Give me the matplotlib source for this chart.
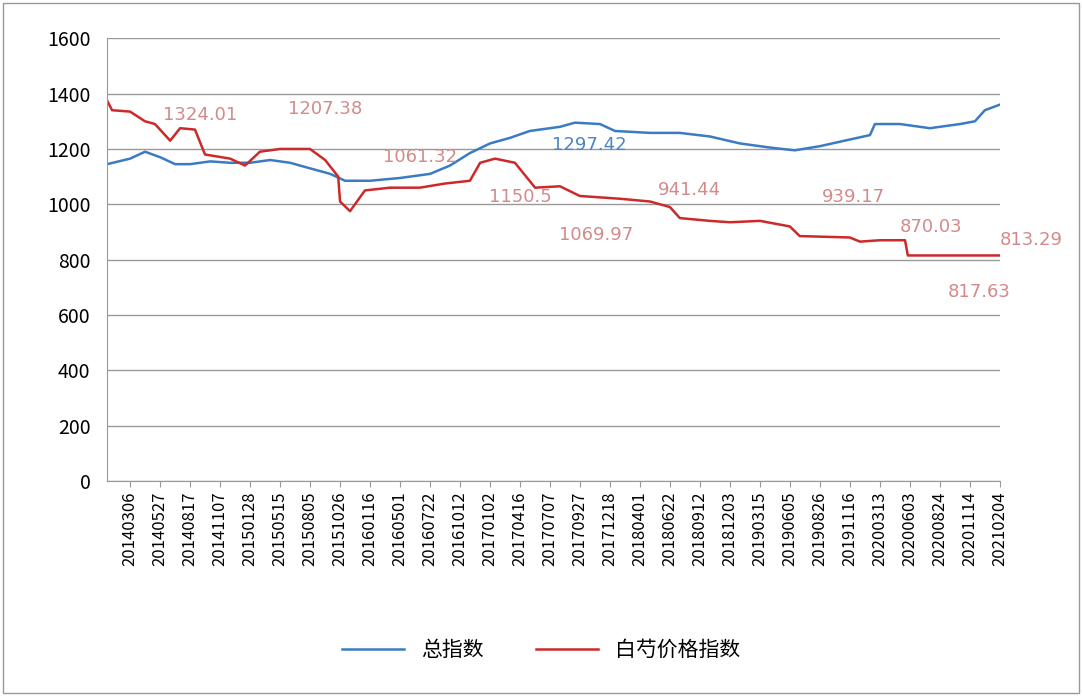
import matplotlib
matplotlib.use("Agg")
import matplotlib.pyplot as plt
import numpy as np

plt.rcParams['font.family'] = ['Noto Sans CJK SC', 'DejaVu Sans']

tick_labels = ["20140306","20140527","20140817","20141107","20150128","20150515","20150805",
"20151026","20160116","20160501","20160722","20161012","20170102","20170416","20170707",
"20170927","20171218","20180401","20180622","20180912","20181203","20190315","20190605",
"20190826","20191116","20200313","20200603","20200824","20201114","20210204"]

# x in chart units (first tick = 0, last tick = 28)
blue_x = [-0.74,0,0.48,0.97,1.45,1.93,2.58,3.22,3.86,4.51,5.15,5.79,6.44,6.92,7.72,8.69,9.66,10.3,10.94,11.59,12.23,12.87,13.84,14.32,15.13,15.61,16.74,17.7,18.67,19.63,20.6,21.4,22.21,23.01,23.82,23.98,24.79,25.75,26.72,27.2,27.52,28.0]
blue_y = [1145,1165,1190,1170,1145,1145,1155,1150,1150,1160,1150,1130,1110,1085,1085,1095,1110,1140,1185,1220,1240,1265,1280,1295,1290,1265,1258,1258,1245,1220,1205,1195,1210,1230,1250,1290,1290,1275,1290,1300,1340,1360]

red_x = [-0.74,-0.58,0,0.48,0.8,1.29,1.61,2.09,2.41,3.22,3.7,4.18,4.83,5.79,6.28,6.7,6.76,7.08,7.56,8.37,9.33,10.14,10.94,11.27,11.75,12.39,13.04,13.84,14.48,15.77,16.74,17.38,17.7,18.67,19.31,20.28,21.24,21.56,23.17,23.5,24.14,24.95,25.04,28.0]
red_y = [1375,1340,1335,1300,1290,1230,1275,1270,1180,1165,1140,1190,1200,1200,1160,1100,1010,975,1050,1060,1060,1075,1085,1150,1165,1150,1060,1065,1030,1020,1010,990,950,940,935,940,920,885,880,865,870,870,815,815]

ann_text = ["1324.01","1207.38","1061.32","1150.5","1297.42","1069.97","941.44","939.17","870.03","813.29","817.63"]
ann_x = [2.25,6.28,9.33,12.55,14.8,15.0,18.0,23.3,25.8,29.0,27.35]
ann_y = [1321,1343,1170,1025,1213,888,1050,1025,917,870,682]
ann_col = ["#d48a8a"]*4 + ["#4a86c5"] + ["#d48a8a"]*6

fig = plt.figure(figsize=(10.82,6.96), dpi=100)
fig.patches.append(plt.Rectangle((0.003,0.004),0.994,0.992,transform=fig.transFigure,fill=False,edgecolor="#999999",lw=1))
ax = fig.add_axes([0.099,0.309,0.825,0.636])
ax.plot(blue_x, blue_y, color="#3b7bc4", lw=1.8, label="总指数")
ax.plot(red_x, red_y, color="#cc2a2a", lw=1.8, label="白芍价格指数")
for t,x,y,c in zip(ann_text,ann_x,ann_y,ann_col):
    ax.text(x,y,t,color=c,fontsize=13,ha="center",va="center",family=['DejaVu Sans'])
ax.set_xlim(-0.74,28)
ax.set_ylim(0,1600)
ax.set_yticks(range(0,1601,200))
ax.set_xticks(np.arange(len(tick_labels))*28/(len(tick_labels)-1))
ax.set_xticklabels(tick_labels, rotation=90, fontsize=12)
ax.tick_params(axis='y', labelsize=14, length=0, pad=12)
ax.tick_params(axis='x', length=4, color="#999999")
ax.grid(axis='y', color="#999999", lw=1)
for s in ["top","right"]:
    ax.spines[s].set_visible(False)
ax.spines["left"].set_color("#999999")
ax.spines["bottom"].set_color("#999999")
fig.legend(loc="center", bbox_to_anchor=(0.5,0.066), ncol=2, frameon=False, fontsize=15, handlelength=3, columnspacing=2.5)
fig.savefig("out.png", dpi=100)
